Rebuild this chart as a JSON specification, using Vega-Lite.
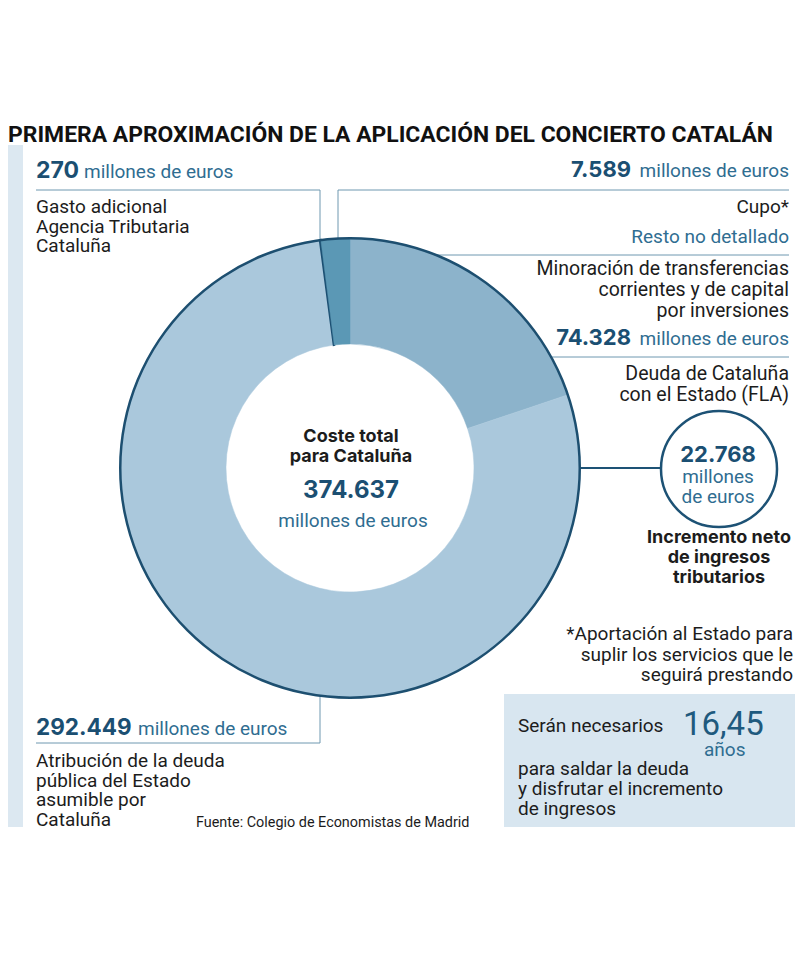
{
  "$schema": "https://vega.github.io/schema/vega-lite/v6.json",
  "width": 800,
  "height": 955,
  "autosize": {"type": "none"},
  "padding": 0,
  "background": "white",
  "config": {"view": {"stroke": null}, "text": {"font": "Roboto", "fontSize": 19, "color": "#1c1c1c", "baseline": "alphabetic"}},
  "datasets": {
    "coste": [
      {"concepto": "Deuda de Cataluña con el Estado (FLA)", "valor": 74328, "orden": 1},
      {"concepto": "Atribución de la deuda pública del Estado asumible por Cataluña", "valor": 292449, "orden": 2},
      {"concepto": "Gasto adicional Agencia Tributaria Cataluña", "valor": 270, "orden": 3},
      {"concepto": "Cupo", "valor": 7589, "orden": 4}
    ],
    "nota": [{"nota": "anotación"}]
  },
  "data": {"name": "nota"},
  "layer": [
    {
      "mark": {"type": "rect", "fill": "#dce8f1"},
      "encoding": {
        "x": {"datum": 8, "type": "quantitative", "scale": {"domain": [0, 800], "range": [0, 800], "zero": false, "nice": false}, "axis": null},
        "x2": {"datum": 23},
        "y": {"datum": 145, "type": "quantitative", "scale": {"domain": [0, 955], "range": [0, 955], "zero": false, "nice": false}, "axis": null},
        "y2": {"datum": 827}
      }
    },
    {
      "mark": {"type": "rect", "fill": "#d8e6f0"},
      "encoding": {"x": {"datum": 504}, "x2": {"datum": 795}, "y": {"datum": 694}, "y2": {"datum": 827}}
    },
    {"mark": {"type": "rule", "stroke": "#6e98b0", "strokeWidth": 1}, "encoding": {"x": {"datum": 36}, "x2": {"datum": 320}, "y": {"datum": 190}, "y2": {"datum": 190}}},
    {"mark": {"type": "rule", "stroke": "#6e98b0", "strokeWidth": 1}, "encoding": {"x": {"datum": 320}, "x2": {"datum": 320}, "y": {"datum": 190}, "y2": {"datum": 240}}},
    {"mark": {"type": "rule", "stroke": "#6e98b0", "strokeWidth": 1}, "encoding": {"x": {"datum": 338}, "x2": {"datum": 789}, "y": {"datum": 190}, "y2": {"datum": 190}}},
    {"mark": {"type": "rule", "stroke": "#6e98b0", "strokeWidth": 1}, "encoding": {"x": {"datum": 338}, "x2": {"datum": 338}, "y": {"datum": 190}, "y2": {"datum": 239}}},
    {"mark": {"type": "rule", "stroke": "#6e98b0", "strokeWidth": 1}, "encoding": {"x": {"datum": 351}, "x2": {"datum": 789}, "y": {"datum": 255}, "y2": {"datum": 255}}},
    {"mark": {"type": "rule", "stroke": "#6e98b0", "strokeWidth": 1}, "encoding": {"x": {"datum": 551}, "x2": {"datum": 789}, "y": {"datum": 357}, "y2": {"datum": 357}}},
    {"mark": {"type": "rule", "stroke": "#6e98b0", "strokeWidth": 1}, "encoding": {"x": {"datum": 320}, "x2": {"datum": 320}, "y": {"datum": 696}, "y2": {"datum": 743}}},
    {"mark": {"type": "rule", "stroke": "#6e98b0", "strokeWidth": 1}, "encoding": {"x": {"datum": 36}, "x2": {"datum": 320}, "y": {"datum": 743}, "y2": {"datum": 743}}},
    {"mark": {"type": "rule", "stroke": "#1d5275", "strokeWidth": 2}, "encoding": {"x": {"datum": 580}, "x2": {"datum": 662}, "y": {"datum": 468}, "y2": {"datum": 468}}},
    {
      "data": {"name": "coste"},
      "mark": {"type": "arc", "radius": 230, "innerRadius": 124},
      "encoding": {
        "x": {"datum": 350},
        "y": {"datum": 468},
        "theta": {"field": "valor", "type": "quantitative", "stack": true},
        "order": {"field": "orden", "type": "quantitative"},
        "color": {"field": "concepto", "type": "nominal", "legend": null, "scale": {
          "domain": ["Deuda de Cataluña con el Estado (FLA)", "Atribución de la deuda pública del Estado asumible por Cataluña", "Gasto adicional Agencia Tributaria Cataluña", "Cupo"],
          "range": ["#8cb3cb", "#aac8dc", "#1b4f72", "#5b98b5"]}},
        "stroke": {"field": "concepto", "type": "nominal", "legend": null, "scale": {
          "domain": ["Deuda de Cataluña con el Estado (FLA)", "Atribución de la deuda pública del Estado asumible por Cataluña", "Gasto adicional Agencia Tributaria Cataluña", "Cupo"],
          "range": ["#8cb3cb", "#aac8dc", "#1b4f72", "#5b98b5"]}},
        "strokeWidth": {"condition": {"test": "datum.orden === 3", "value": 2}, "value": 0.5}
      }
    },
    {
      "mark": {"type": "arc", "radius": 231, "innerRadius": 228.5, "theta": 0, "theta2": 6.2832, "fill": "#1d4f70"},
      "encoding": {"x": {"datum": 350}, "y": {"datum": 468}}
    },
    {
      "mark": {"type": "point", "shape": "circle", "size": 13456, "filled": true, "fill": "white", "stroke": "#1d5275", "strokeWidth": 2.5, "opacity": 1},
      "encoding": {"x": {"datum": 719}, "y": {"datum": 469}}
    },
    {"mark": {"type": "text", "text": "PRIMERA APROXIMACIÓN DE LA APLICACIÓN DEL CONCIERTO CATALÁN", "fontWeight": "bold", "fontSize": 22.9, "align": "left", "color": "#111111"}, "encoding": {"x": {"datum": 8}, "y": {"datum": 142}}},
    {"mark": {"type": "text", "text": "270", "font": "Inter", "fontWeight": "bold", "fontSize": 23, "align": "left", "color": "#1b4f72"}, "encoding": {"x": {"datum": 36}, "y": {"datum": 178}}},
    {"mark": {"type": "text", "text": "millones de euros", "align": "left", "color": "#2f6d91"}, "encoding": {"x": {"datum": 84}, "y": {"datum": 178}}},
    {"mark": {"type": "text", "text": ["Gasto adicional", "Agencia Tributaria", "Cataluña"], "align": "left", "lineHeight": 19.7}, "encoding": {"x": {"datum": 36}, "y": {"datum": 213}}},
    {"mark": {"type": "text", "text": "7.589", "font": "Inter", "fontWeight": "bold", "fontSize": 22, "align": "right", "color": "#1b4f72"}, "encoding": {"x": {"datum": 631}, "y": {"datum": 177}}},
    {"mark": {"type": "text", "text": "millones de euros", "align": "right", "color": "#2f6d91"}, "encoding": {"x": {"datum": 789}, "y": {"datum": 177}}},
    {"mark": {"type": "text", "text": "Cupo*", "align": "right"}, "encoding": {"x": {"datum": 789}, "y": {"datum": 213}}},
    {"mark": {"type": "text", "text": "Resto no detallado", "align": "right", "color": "#2f6d91"}, "encoding": {"x": {"datum": 789}, "y": {"datum": 243}}},
    {"mark": {"type": "text", "text": ["Minoración de transferencias", "corrientes y de capital", "por inversiones"], "align": "right", "fontSize": 19.5, "lineHeight": 20.8}, "encoding": {"x": {"datum": 789}, "y": {"datum": 275}}},
    {"mark": {"type": "text", "text": "74.328", "font": "Inter", "fontWeight": "bold", "fontSize": 22, "align": "right", "color": "#1b4f72"}, "encoding": {"x": {"datum": 631}, "y": {"datum": 345}}},
    {"mark": {"type": "text", "text": "millones de euros", "align": "right", "color": "#2f6d91"}, "encoding": {"x": {"datum": 789}, "y": {"datum": 345}}},
    {"mark": {"type": "text", "text": ["Deuda de Cataluña", "con el Estado (FLA)"], "align": "right", "fontSize": 19.5, "lineHeight": 21}, "encoding": {"x": {"datum": 789}, "y": {"datum": 380}}},
    {"mark": {"type": "text", "text": ["Coste total", "para Cataluña"], "align": "center", "font": "Inter", "fontWeight": "bold", "fontSize": 18, "lineHeight": 19.5}, "encoding": {"x": {"datum": 351}, "y": {"datum": 442}}},
    {"mark": {"type": "text", "text": "374.637", "font": "Inter", "fontWeight": "bold", "fontSize": 24, "align": "center", "color": "#1b4f72"}, "encoding": {"x": {"datum": 351}, "y": {"datum": 498}}},
    {"mark": {"type": "text", "text": "millones de euros", "align": "center", "color": "#2f6d91"}, "encoding": {"x": {"datum": 353}, "y": {"datum": 527}}},
    {"mark": {"type": "text", "text": "22.768", "font": "Inter", "fontWeight": "bold", "fontSize": 22, "align": "center", "color": "#1b4f72"}, "encoding": {"x": {"datum": 718}, "y": {"datum": 462}}},
    {"mark": {"type": "text", "text": ["millones", "de euros"], "align": "center", "lineHeight": 19.5, "color": "#2f6d91"}, "encoding": {"x": {"datum": 718}, "y": {"datum": 483}}},
    {"mark": {"type": "text", "text": ["Incremento neto", "de ingresos", "tributarios"], "align": "center", "font": "Inter", "fontWeight": "bold", "fontSize": 18, "lineHeight": 20}, "encoding": {"x": {"datum": 719}, "y": {"datum": 543}}},
    {"mark": {"type": "text", "text": ["*Aportación al Estado para", "suplir los servicios que le", "seguirá prestando"], "align": "right", "lineHeight": 20.5}, "encoding": {"x": {"datum": 793}, "y": {"datum": 640}}},
    {"mark": {"type": "text", "text": "292.449", "font": "Inter", "fontWeight": "bold", "fontSize": 22.5, "align": "left", "color": "#1b4f72"}, "encoding": {"x": {"datum": 36}, "y": {"datum": 735}}},
    {"mark": {"type": "text", "text": "millones de euros", "align": "left", "color": "#2f6d91"}, "encoding": {"x": {"datum": 138}, "y": {"datum": 735}}},
    {"mark": {"type": "text", "text": ["Atribución de la deuda", "pública del Estado", "asumible por", "Cataluña"], "align": "left", "lineHeight": 19.5}, "encoding": {"x": {"datum": 36}, "y": {"datum": 767}}},
    {"mark": {"type": "text", "text": "Fuente: Colegio de Economistas de Madrid", "align": "left", "fontSize": 14.4}, "encoding": {"x": {"datum": 196}, "y": {"datum": 827}}},
    {"mark": {"type": "text", "text": "Serán necesarios", "align": "left"}, "encoding": {"x": {"datum": 518}, "y": {"datum": 732}}},
    {"mark": {"type": "text", "text": "16,45", "align": "left", "fontSize": 33, "fontWeight": 400, "color": "#1f5a7e"}, "encoding": {"x": {"datum": 683}, "y": {"datum": 735}}},
    {"mark": {"type": "text", "text": "años", "align": "left", "color": "#2f6d91"}, "encoding": {"x": {"datum": 704}, "y": {"datum": 756}}},
    {"mark": {"type": "text", "text": ["para saldar la deuda", "y disfrutar el incremento", "de ingresos"], "align": "left", "lineHeight": 20}, "encoding": {"x": {"datum": 518}, "y": {"datum": 775}}}
  ]
}
